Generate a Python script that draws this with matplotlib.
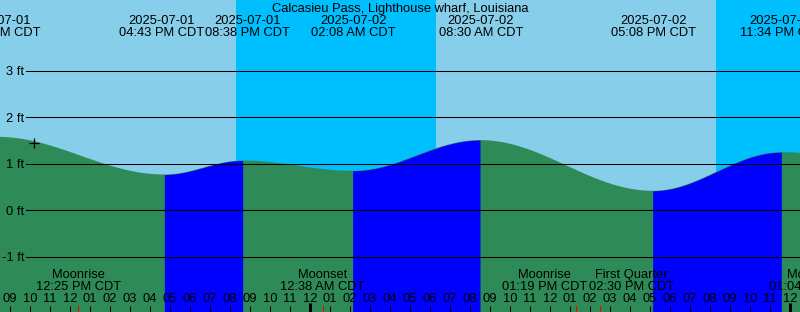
import matplotlib
matplotlib.use("Agg")
import matplotlib.pyplot as plt
import numpy as np
import pandas as pd
from matplotlib.transforms import blended_transform_factory as btf

plt.rcParams['font.family'] = ['Liberation Sans', 'DejaVu Sans']
plt.rcParams['font.size'] = 9.25

# ---------------- data ----------------
title = "Calcasieu Pass, Lighthouse wharf, Louisiana"
base = pd.Timestamp("2025-07-01 00:00")

tide_times = ["2025-07-01 08:21", "2025-07-01 16:43", "2025-07-01 20:38",
              "2025-07-02 02:08", "2025-07-02 08:30", "2025-07-02 17:08",
              "2025-07-02 23:34", "2025-07-03 05:40"]
tide_levels = [1.58, 0.77, 1.07, 0.85, 1.51, 0.42, 1.25, 0.95]

sun_times = ["2025-07-01 20:18", "2025-07-02 06:18", "2025-07-02 20:18"]
sun_kinds = ["Sunset", "Sunrise", "Sunset"]

moon_times = ["2025-07-01 12:25", "2025-07-02 00:38", "2025-07-02 13:19",
              "2025-07-02 14:30", "2025-07-03 01:04"]
moon_names = ["Moonrise", "Moonset", "Moonrise", "First Quarter", "Moonset"]

now_time = "2025-07-01 10:12"
now_level = 1.44

level_ticks = [-1, 0, 1, 2, 3]

# ---------------- helpers ----------------
W, H = 800, 312
X0, X1 = 8.5, 48.5
Y0, Y1 = -2.187, 4.523
PXH = (X1 - X0) / W  # hours per pixel


def hrs(s):
    return (pd.Timestamp(s) - base).total_seconds() / 3600.0


def fy(py):
    return 1 - py / H


def fmt_time(s):
    return pd.Timestamp(s).strftime("%I:%M %p CDT")


def fmt_date(s):
    return pd.Timestamp(s).strftime("%Y-%m-%d")


def spread(centers, min_d):
    c = list(centers)
    for i in range(len(c) - 1):
        d = c[i + 1] - c[i]
        if d < min_d:
            mid = (c[i] + c[i + 1]) / 2
            c[i] = mid - min_d / 2
            c[i + 1] = mid + min_d / 2
    return c


th = np.array([hrs(t) for t in tide_times])
tl = np.array(tide_levels)

fig = plt.figure(figsize=(8, 3.12), dpi=100)
ax = fig.add_axes([0, 0, 1, 1])
ax.set_xlim(X0, X1)
ax.set_ylim(Y0, Y1)
ax.axis('off')

DAY, NIGHT = '#87CEEB', '#00BFFF'
FALL, RISE = '#2E8B57', '#0000FF'

# sky bands
edges = [X0] + [hrs(t) for t in sun_times] + [X1]
is_night = False
for a, b in zip(edges[:-1], edges[1:]):
    ax.axvspan(a, b, color=NIGHT if is_night else DAY, lw=0, zorder=0)
    is_night = not is_night

# tide curve (smooth half-cosine between successive extremes)
segs = []
for i in range(len(th) - 1):
    ts = np.linspace(th[i], th[i + 1], 600)
    ph = np.pi * (ts - th[i]) / (th[i + 1] - th[i])
    lv = tl[i] + (tl[i + 1] - tl[i]) * (1 - np.cos(ph)) / 2
    segs.append((ts, lv, tl[i + 1] > tl[i]))
all_t = np.concatenate([s[0] for s in segs])
all_l = np.concatenate([s[1] for s in segs])
ax.fill_between(all_t, all_l, Y0, color=FALL, lw=0, zorder=1)
for ts, lv, rising in segs:
    if rising:
        ax.fill_between(ts, lv, Y0, color=RISE, lw=0, zorder=2)

# level grid lines + labels
tr_ad = btf(ax.transAxes, ax.transData)
for lv in level_ticks:
    ax.plot([26 / W, 1], [lv, lv], color='black', lw=0.75, transform=tr_ad, zorder=3)
    ax.text(24.5 / W, lv - 4.5 / 46.5, f"{lv} ft", ha='right', va='baseline',
            transform=tr_ad, zorder=5)

# now marker
ax.plot([hrs(now_time)], [now_level], marker='+', ms=7, mew=0.9, color='black', zorder=5)

tr_da = btf(ax.transData, ax.transAxes)

# title
ax.text(400 / W, fy(12), title, transform=ax.transAxes, ha='center', va='baseline', zorder=5)

# tide event labels
centers = spread([t + 1 * PXH for t in th], 86.3 * PXH)
for s, c in zip(tide_times, centers):
    ax.text(c, fy(24), fmt_date(s), transform=tr_da, ha='center', va='baseline', zorder=5)
    ax.text(c, fy(36), fmt_time(s), transform=tr_da, ha='center', va='baseline', zorder=5)

# moon event labels + red ticks
mh = [hrs(t) for t in moon_times]
mc = spread(mh, 86.7 * PXH)
for s, name, h, c in zip(moon_times, moon_names, mh, mc):
    ax.text(c, fy(278.3), name, transform=tr_da, ha='center', va='baseline', zorder=5)
    ax.text(c, fy(290), fmt_time(s), transform=tr_da, ha='center', va='baseline', zorder=5)
    ax.plot([h, h], [fy(305.5), 0], color='red', lw=0.75, transform=tr_da, zorder=6)

# hour ticks and labels
for h in range(9, 49):
    lab = f"{(h % 12) or 12:02d}"
    ax.text(h, fy(301.7), lab, transform=tr_da, ha='center', va='baseline', zorder=5)
    if h % 24 == 0:
        ax.plot([h, h], [fy(303.3), 0], color='black', lw=2.2, transform=tr_da,
                solid_capstyle='butt', zorder=6)
    else:
        ax.plot([h, h], [fy(305.5), 0], color='black', lw=0.75, transform=tr_da,
                solid_capstyle='butt', zorder=6)

fig.savefig("out.png", dpi=100)
